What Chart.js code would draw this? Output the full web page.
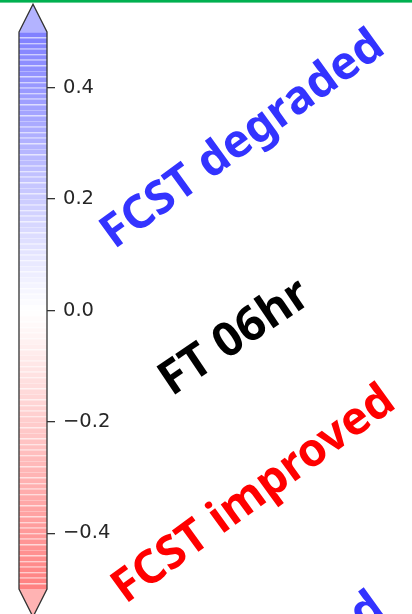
<!DOCTYPE html>
<html><head><meta charset="utf-8">
<style>html,body{margin:0;padding:0;background:#fff;overflow:hidden}canvas{display:block}</style>
<script src="https://cdn.jsdelivr.net/npm/chart.js@4/dist/chart.umd.min.js"></script>
</head><body><canvas id="c" width="412" height="614"></canvas>
<script>
// Colorbar level boundaries (contourf levels)
const levels = [
 -0.50,-0.49,-0.48,-0.47,-0.46,-0.45,-0.44,-0.43,-0.42,-0.41,
 -0.40,-0.39,-0.38,-0.37,-0.36,-0.35,-0.34,-0.33,-0.32,-0.31,
 -0.30,-0.29,-0.28,-0.27,-0.26,-0.25,-0.24,-0.23,-0.22,-0.21,
 -0.20,-0.19,-0.18,-0.17,-0.16,-0.15,-0.14,-0.13,-0.12,-0.11,
 -0.10,-0.09,-0.08,-0.07,-0.06,-0.05,-0.04,-0.03,-0.02,-0.01,
  0.00, 0.01, 0.02, 0.03, 0.04, 0.05, 0.06, 0.07, 0.08, 0.09,
  0.10, 0.11, 0.12, 0.13, 0.14, 0.15, 0.16, 0.17, 0.18, 0.19,
  0.20, 0.21, 0.22, 0.23, 0.24, 0.25, 0.26, 0.27, 0.28, 0.29,
  0.30, 0.31, 0.32, 0.33, 0.34, 0.35, 0.36, 0.37, 0.38, 0.39,
  0.40, 0.41, 0.42, 0.43, 0.44, 0.45, 0.46, 0.47, 0.48, 0.49,
  0.50
];
const tickValues = [-0.4, -0.2, 0.0, 0.2, 0.4];
const extendValues = [-0.55, 0.55];
const annotationTexts = ['FCST degraded', 'FT 06hr', 'FCST improved', 'FCST degraded'];

function cmap(v){ // bwr_r with alpha 0.5 over white
  const t = (v - levels[0]) / (levels[levels.length-1] - levels[0]);
  let r,g,b;
  if (t >= 0.5){ const s = (1 - t) / 0.5; r = s; g = s; b = 1; }
  else { const s = t / 0.5; r = 1; g = s; b = s; }
  const m = x => Math.round(255 * (0.5 + 0.5 * x));
  return [m(r), m(g), m(b)];
}
const datasets = [];
for (let i = 0; i < levels.length - 1; i++){
  const lo = levels[i], hi = levels[i+1];
  const c = cmap((lo + hi) / 2);
  const l = c.map(x => Math.round(x + (255 - x) * 0.3));
  datasets.push({
    data: [[lo, hi]],
    backgroundColor: `rgb(${c.join(',')})`,
    borderColor: `rgb(${l.join(',')})`,
    borderWidth: {top: 1, bottom: 0, left: 0, right: 0},
    borderSkipped: false,
    inflateAmount: 0,
    grouped: false,
    categoryPercentage: 1,
    barPercentage: 1
  });
}

const decor = {
  id: 'decor',
  beforeDraw(chart){
    const ctx = chart.ctx;
    ctx.save();
    ctx.fillStyle = '#fff';
    ctx.fillRect(0, 0, chart.width, chart.height);
    ctx.restore();
  },
  afterDatasetsDraw(chart){
    const ctx = chart.ctx, y = chart.scales.y, a = chart.chartArea;
    const L = a.left, R = a.right, C = (L + R) / 2;
    const yTop = y.getPixelForValue(levels[levels.length-1]);
    const yBot = y.getPixelForValue(levels[0]);
    const tipT = y.getPixelForValue(extendValues[1]);
    const tipB = y.getPixelForValue(extendValues[0]);
    ctx.save();
    ctx.fillStyle = '#b3b3ff';
    ctx.beginPath(); ctx.moveTo(L, yTop); ctx.lineTo(C, tipT); ctx.lineTo(R, yTop); ctx.closePath(); ctx.fill();
    ctx.fillStyle = '#ffb3b3';
    ctx.beginPath(); ctx.moveTo(L, yBot); ctx.lineTo(C, tipB); ctx.lineTo(R, yBot); ctx.closePath(); ctx.fill();
    ctx.strokeStyle = '#333';
    ctx.lineWidth = 1.3;
    ctx.lineJoin = 'miter';
    ctx.beginPath();
    ctx.moveTo(L, yTop); ctx.lineTo(C, tipT); ctx.lineTo(R, yTop);
    ctx.lineTo(R, yBot); ctx.lineTo(C, tipB); ctx.lineTo(L, yBot); ctx.closePath();
    ctx.stroke();
    ctx.restore();
  },
  afterDraw(chart){
    const ctx = chart.ctx;
    ctx.save();
    ctx.fillStyle = '#00b050';
    ctx.fillRect(0, 0, chart.width, 2.6);
    const items = [
      {t: annotationTexts[0], x: 243, y: 140, c: '#3333ff', s: 46, a: 36},
      {t: annotationTexts[1], x: 235, y: 338, c: '#000000', s: 47, a: 34},
      {t: annotationTexts[2], x: 254, y: 495, c: '#ff0000', s: 46, a: 36},
      {t: annotationTexts[3], x: 243, y: 702, c: '#3333ff', s: 46, a: 36}
    ];
    for (const it of items){
      ctx.save();
      ctx.translate(it.x, it.y);
      ctx.rotate(-it.a * Math.PI / 180);
      ctx.font = `bold ${it.s}px "Noto Sans"`;
      ctx.fillStyle = it.c;
      ctx.textAlign = 'center';
      ctx.textBaseline = 'middle';
      ctx.fillText(it.t, 0, 0);
      ctx.restore();
    }
    ctx.restore();
  }
};

new Chart(document.getElementById('c'), {
  type: 'bar',
  data: { labels: ['cb'], datasets },
  options: {
    responsive: false,
    animation: false,
    layout: { padding: { left: 19, right: 0, top: 32, bottom: 25 } },
    plugins: { legend: { display: false }, tooltip: { enabled: false } },
    scales: {
      x: { display: false, offset: true },
      y: {
        position: 'right',
        min: levels[0], max: levels[levels.length-1],
        afterBuildTicks(scale){ scale.ticks = tickValues.map(v => ({value: v})); },
        afterFit(scale){ scale.width = 365; },
        border: { display: false },
        grid: { drawOnChartArea: false, drawTicks: true, tickLength: 8, tickColor: '#333', lineWidth: 1.3 },
        ticks: {
          padding: 8,
          color: '#262626',
          font: { family: 'DejaVu Sans', size: 19.5 },
          callback: v => (v < 0 ? '\u2212' : '') + Math.abs(v).toFixed(1)
        }
      }
    }
  },
  plugins: [decor]
});
</script></body></html>
